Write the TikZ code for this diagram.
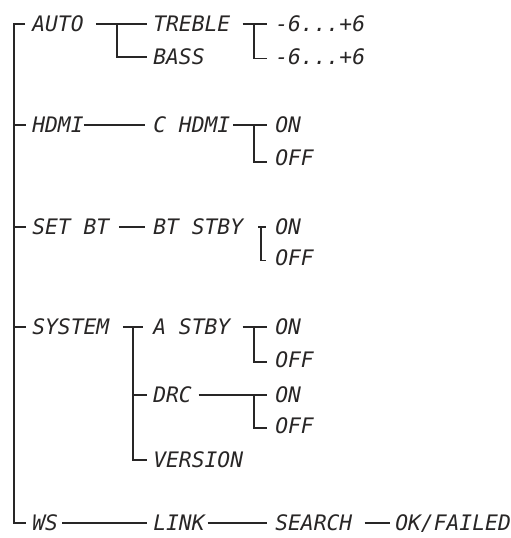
\documentclass[tikz,border=0pt]{standalone}
\usepackage{fontspec}
\newfontfamily\lcdfont{DejaVu Sans Mono}
\usetikzlibrary{positioning}
\definecolor{ink}{RGB}{40,38,38}

\begin{document}
\begin{tikzpicture}[x=0.75pt,y=-0.75pt,
  lbl/.style={anchor=west,inner sep=0pt,text height=11.8pt,text depth=0pt,
    text=ink,font=\lcdfont\itshape\fontsize{16}{16}\selectfont},
  wire/.style={draw=ink,line width=0.85pt}]
\useasboundingbox (0,0) rectangle (510,538);
% first level
\node[lbl] (auto) at (32,24) {AUTO};
\node[lbl] (hdmi) at (32,125) {HDMI};
\node[lbl] (setbt) at (32,227) {SET BT};
\node[lbl] (system) at (32,327) {SYSTEM};
\node[lbl] (ws) at (32,523) {WS};
% second level
\node[lbl] (treble) at (153,24) {TREBLE};
\node[lbl] (bass) at (153,57) {BASS};
\node[lbl] (chdmi) at (153,125) {C HDMI};
\node[lbl] (btstby) at (153,227) {BT STBY};
\node[lbl] (astby) at (153,327) {A STBY};
\node[lbl] (drc) at (153,395) {DRC};
\node[lbl] (version) at (153,460) {VERSION};
\node[lbl] (link) at (153,523) {LINK};
% third level
\node[lbl] (trebv) at (275,24) {-6...+6};
\node[lbl] (bassv) at (275,57) {-6...+6};
\node[lbl] (hon) at (275,125) {ON};
\node[lbl] (hoff) at (275,158) {OFF};
\node[lbl] (bon) at (275,227) {ON};
\node[lbl] (boff) at (275,258) {OFF};
\node[lbl] (aon) at (275,327) {ON};
\node[lbl] (aoff) at (275,360) {OFF};
\node[lbl] (don) at (275,395) {ON};
\node[lbl] (doff) at (275,426) {OFF};
\node[lbl] (search) at (275,523) {SEARCH};
\node[lbl] (okf) at (395,523) {OK/FAILED};

% root line
\coordinate (top) at (14,24);
\draw[wire] ([xshift=-5.2pt]auto.west) -- (top) |- ([xshift=-4.5pt]ws.west);
\foreach \n in {hdmi,setbt,system}
  \draw[wire] (top |- \n.west) -- ([xshift=-4.5pt]\n.west);

% AUTO
\coordinate (autob) at (117,24);
\draw[wire] ([xshift=9pt]auto.east) -- ([xshift=-4.5pt]treble.west);
\draw[wire] (autob) |- ([xshift=-4.5pt]bass.west);
\coordinate (trebb) at (254,24);
\draw[wire] ([xshift=9pt]treble.east) -- ([xshift=-6pt]trebv.west);
\draw[wire] (trebb) |- ([xshift=-6pt,yshift=-1pt]bassv.west);

% HDMI
\draw[wire] (hdmi.east) -- ([xshift=-6pt]chdmi.west);
\coordinate (chb) at (254,125);
\draw[wire] ([xshift=2pt]chdmi.east) -- ([xshift=-6pt]hon.west);
\draw[wire] (chb) |- ([xshift=-6pt,yshift=-3pt]hoff.west);

% SET BT
\draw[wire] ([xshift=7pt]setbt.east) -- ([xshift=-6pt]btstby.west);
\coordinate (btb) at (261,227);
\draw[wire] ([xshift=11pt]btstby.east) -- ([xshift=-6.5pt]bon.west);
\draw[wire] (btb) |- ([xshift=-6.5pt,yshift=-2pt]boff.west);

% SYSTEM
\draw[wire] ([xshift=10pt]system.east) -- ([xshift=-7.5pt]astby.west);
\coordinate (sysb) at (133,327);
\draw[wire] (sysb) |- ([xshift=-4.5pt]version.west);
\draw[wire] (sysb |- drc.west) -- ([xshift=-4.5pt]drc.west);
\coordinate (asb) at (254,327);
\draw[wire] ([xshift=9pt]astby.east) -- ([xshift=-6pt]aon.west);
\draw[wire] (asb) |- ([xshift=-6pt,yshift=-1.5pt]aoff.west);
\coordinate (drb) at (254,395);
\draw[wire] ([xshift=5pt]drc.east) -- ([xshift=-6pt]don.west);
\draw[wire] (drb) |- ([xshift=-6pt,yshift=-1.5pt]doff.west);

% WS
\draw[wire] ([xshift=3pt]ws.east) -- ([xshift=-4.5pt]link.west);
\draw[wire] ([xshift=2pt]link.east) -- ([xshift=-6pt]search.west);
\draw[wire] ([xshift=9pt]search.east) -- ([xshift=-4pt]okf.west);
\end{tikzpicture}
\end{document}
